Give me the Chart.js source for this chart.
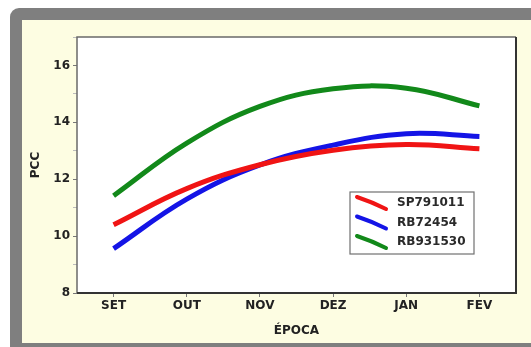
<!DOCTYPE html>
<html>
<head>
<meta charset="utf-8">
<script src="https://cdn.jsdelivr.net/npm/chart.js@4/dist/chart.umd.min.js"></script>
<style>
  html, body { margin: 0; padding: 0; background: #ffffff; width: 531px; height: 347px; overflow: hidden; }
  #frame { position: absolute; left: 10px; top: 8px; width: 540px; height: 345px; background: #7f7f7f; border-top-left-radius: 9px; }
  #inner { position: absolute; left: 22px; top: 20px; width: 530px; height: 323px; background: #fdfde2; }
  #wrap { position: absolute; left: 0; top: 0; width: 531px; height: 347px; }
</style>
</head>
<body>
<div id="frame"></div>
<div id="inner"></div>
<div id="wrap"><canvas id="c" width="531" height="347"></canvas></div>
<script>
const months = ['SET', 'OUT', 'NOV', 'DEZ', 'JAN', 'FEV'];
const seriesNames = ['SP791011', 'RB72454', 'RB931530'];
const sp791011 = [10.40, 11.67, 12.51, 13.02, 13.22, 13.07];
const rb72454  = [9.56, 11.30, 12.50, 13.20, 13.60, 13.50];
const rb931530 = [11.42, 13.27, 14.56, 15.18, 15.20, 14.58];
const yTicksShown = [8, 10, 12, 14, 16];
const colors = ['#f01414', '#1414e6', '#12891a'];

const FONT = "'DejaVu Sans', Arial, sans-serif";

const boxPlugin = {
  id: 'box',
  beforeDraw(chart) {
    const a = chart.chartArea, ctx = chart.ctx;
    ctx.save();
    ctx.fillStyle = '#ffffff';
    ctx.fillRect(a.left, a.top, a.right - a.left, a.bottom - a.top);
    ctx.restore();
  },
  afterDatasetsDraw(chart) {
    const a = chart.chartArea, ctx = chart.ctx;
    ctx.save();
    ctx.strokeStyle = '#6a6a6a';
    ctx.lineWidth = 1.5;
    ctx.beginPath();
    ctx.moveTo(a.right, a.top); ctx.lineTo(a.left, a.top); ctx.lineTo(a.left, a.bottom);
    ctx.stroke();
    ctx.strokeStyle = '#333333';
    ctx.lineWidth = 2;
    ctx.beginPath();
    ctx.moveTo(a.left, a.bottom); ctx.lineTo(a.right, a.bottom); ctx.lineTo(a.right, a.top);
    ctx.stroke();
    ctx.restore();
  }
};

const legendPlugin = {
  id: 'insideLegend',
  afterDraw(chart) {
    const a = chart.chartArea, ctx = chart.ctx;
    const x = a.right - 166, y = a.top + 155, w = 124, h = 62;
    ctx.save();
    ctx.fillStyle = '#ffffff';
    ctx.fillRect(x, y, w, h);
    ctx.strokeStyle = '#707070';
    ctx.lineWidth = 1.2;
    ctx.strokeRect(x, y, w, h);
    chart.data.datasets.forEach((ds, i) => {
      const cy = y + 11 + i * 19.5;
      ctx.strokeStyle = ds.borderColor;
      ctx.lineWidth = 4;
      ctx.lineCap = 'round';
      ctx.beginPath();
      ctx.moveTo(x + 7, cy - 6);
      ctx.quadraticCurveTo(x + 22, cy - 1, x + 36, cy + 6);
      ctx.stroke();
      ctx.fillStyle = '#2a2a2a';
      ctx.font = 'bold 12px ' + FONT;
      ctx.textBaseline = 'middle';
      ctx.textAlign = 'left';
      ctx.fillText(ds.label, x + 47, cy);
    });
    ctx.restore();
  }
};

new Chart(document.getElementById('c'), {
  type: 'line',
  data: {
    labels: months,
    datasets: [
      { label: seriesNames[0], data: sp791011, borderColor: colors[0] },
      { label: seriesNames[1], data: rb72454, borderColor: colors[1] },
      { label: seriesNames[2], data: rb931530, borderColor: colors[2] }
    ].map(d => Object.assign(d, { borderWidth: 5, pointRadius: 0, tension: 0.4, fill: false, borderCapStyle: 'butt' }))
  },
  options: {
    responsive: false,
    animation: false,
    layout: { padding: { left: 0, right: 15, top: 37, bottom: 0 } },
    plugins: { legend: { display: false }, tooltip: { enabled: false } },
    scales: {
      x: {
        type: 'category',
        offset: true,
        afterFit: s => { s.height = 54; },
        grid: { drawOnChartArea: false, drawTicks: true, tickLength: 4, color: '#777', offset: false },
        border: { display: false },
        ticks: { color: '#222', padding: 2, font: { family: FONT, size: 12, weight: 'bold' } },
        title: { display: true, text: 'ÉPOCA', color: '#222', font: { family: FONT, size: 12, weight: 'bold' }, padding: { top: 0, bottom: 9 } }
      },
      y: {
        min: 8,
        max: 17,
        afterFit: s => { s.width = 77; },
        grid: { drawOnChartArea: false, drawTicks: true, tickLength: 4,
                color: c => (c.tick && yTicksShown.includes(c.tick.value)) ? '#777' : '#bbb' },
        border: { display: false },
        ticks: {
          stepSize: 1,
          padding: 3,
          color: '#222',
          font: { family: FONT, size: 12, weight: 'bold' },
          callback: v => yTicksShown.includes(v) ? String(v) : ''
        },
        title: { display: true, text: 'PCC', color: '#222', font: { family: FONT, size: 12, weight: 'bold' }, padding: { top: 29, bottom: 0 } }
      }
    }
  },
  plugins: [boxPlugin, legendPlugin]
});
</script>
</body>
</html>
